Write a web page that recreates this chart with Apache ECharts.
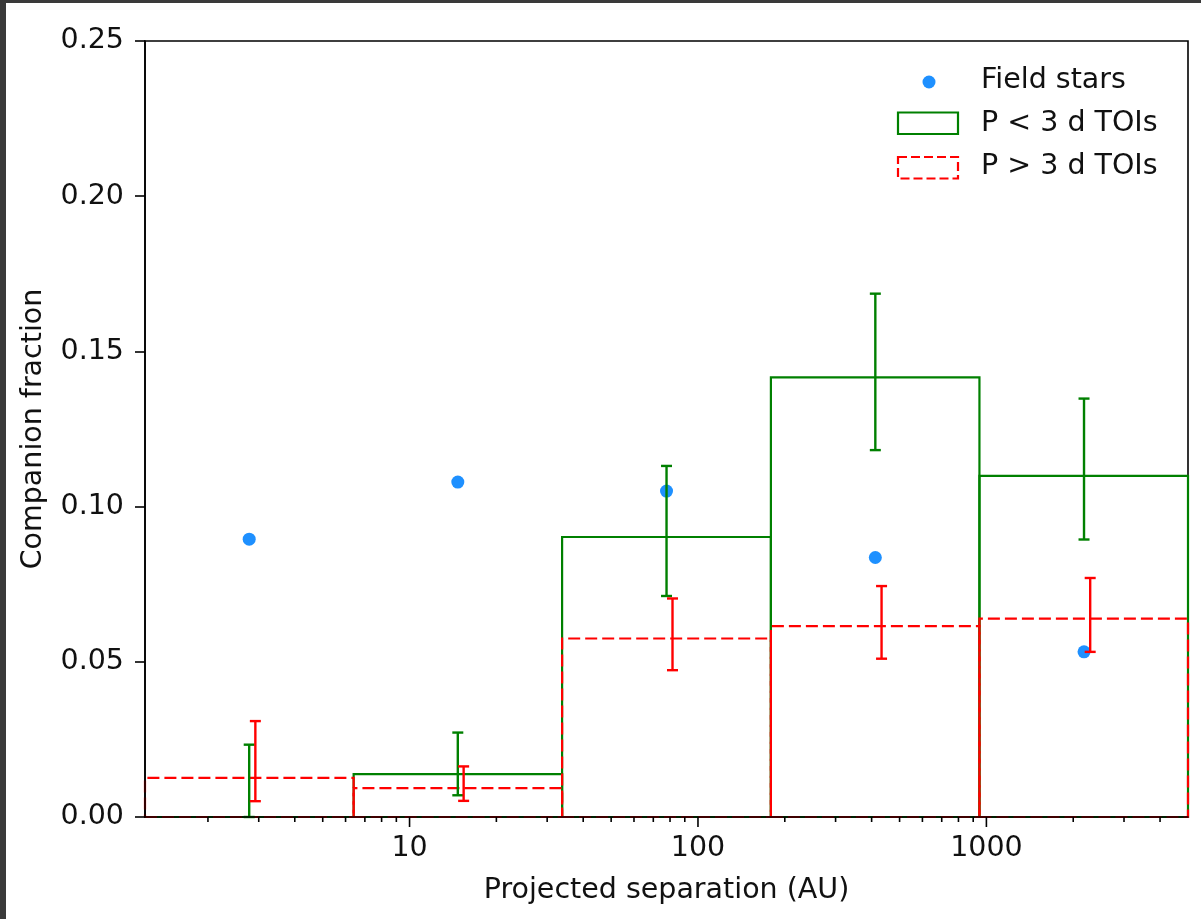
<!DOCTYPE html>
<html>
<head>
<meta charset="utf-8">
<script src="https://cdn.jsdelivr.net/npm/echarts@6/dist/echarts.min.js"></script>
<style>
html,body{margin:0;padding:0;background:#fff;}
#chart{width:1201px;height:919px;}
</style>
</head>
<body>
<div id="chart"></div>
<script>
// ---- data ----
const binEdges = [1.21, 6.4, 33.8, 179, 946, 5000];
const binCenters = [2.78, 14.7, 77.8, 412, 2180];
const fieldFrac = [0.0895, 0.1079, 0.1050, 0.0836, 0.0532];

const shortFrac = [0, 0.0138, 0.0902, 0.1416, 0.1099];
const shortLo   = [0, 0.0070, 0.0712, 0.1182, 0.0894];
const shortHi   = [0.0233, 0.0272, 0.1131, 0.1686, 0.1348];

const longErrX  = [2.92, 15.4, 81.6, 433, 2290];
const longFrac  = [0.0126, 0.0093, 0.0575, 0.0615, 0.0639];
const longLo    = [0.0051, 0.0052, 0.0473, 0.0510, 0.0532];
const longHi    = [0.0309, 0.0163, 0.0704, 0.0744, 0.0770];

const majorTicks = [10, 100, 1000];
const minorTicks = [2,3,4,5,6,7,8,9,20,30,40,50,60,70,80,90,200,300,400,500,600,700,800,900,2000,3000,4000];

const seriesNames = ['Field stars', 'P < 3 d TOIs', 'P > 3 d TOIs'];
const xLabel = 'Projected separation (AU)';
const yLabel = 'Companion fraction';

// ---- chart ----
const FONT = 'DejaVu Sans';
const FS = 28.5;
const GREEN = '#008000', RED = '#ff0000', BLUE = '#1e90ff';
const TXT = '#111';

function histData(h){ return h.map((v,i)=>[binEdges[i], binEdges[i+1], v]); }
function errData(xs, lo, hi){ return xs.map((x,i)=>[x, lo[i], hi[i]]); }

function histRender(color, dash){
  return function(params, api){
    const lo = api.value(0), hi = api.value(1), h = api.value(2);
    const a = api.coord([lo, 0]), b = api.coord([hi, h]);
    return {
      type: 'polygon',
      shape: { points: [[a[0],a[1]],[b[0],a[1]],[b[0],b[1]],[a[0],b[1]]] },
      style: { fill: null, stroke: color, lineWidth: 2.2, lineDash: dash }
    };
  };
}
function errRender(color){
  return function(params, api){
    const x = api.value(0);
    const t = api.coord([x, api.value(2)]), b = api.coord([x, api.value(1)]);
    const cw = 5.5;
    const st = { stroke: color, lineWidth: 2.4 };
    return { type: 'group', children: [
      { type:'line', shape:{x1:t[0], y1:t[1], x2:b[0], y2:b[1]}, style: st },
      { type:'line', shape:{x1:t[0]-cw, y1:t[1], x2:t[0]+cw, y2:t[1]}, style: st },
      { type:'line', shape:{x1:b[0]-cw, y1:b[1], x2:b[0]+cw, y2:b[1]}, style: st }
    ]};
  };
}
function tickRender(len){
  return function(params, api){
    const p = api.coord([api.value(0), 0]);
    return { type:'line', shape:{x1:p[0], y1:p[1], x2:p[0], y2:p[1]+len}, style:{stroke:'#000', lineWidth:1.6} };
  };
}

const chart = echarts.init(document.getElementById('chart'), null, {renderer:'canvas'});
const option = {
  animation: false,
  backgroundColor: '#fff',
  textStyle: { fontFamily: FONT },
  grid: { left: 145, right: 13, top: 41, bottom: 102, show: true, borderColor: '#000', borderWidth: 1.6, backgroundColor: 'transparent' },
  xAxis: {
    type: 'log', logBase: 10, min: binEdges[0], max: binEdges[binEdges.length-1],
    z: 10,
    axisLine: { show: true, lineStyle: { color: '#000', width: 1.6 } },
    axisTick: { show: false },
    splitLine: { show: false },
    axisLabel: {
      showMinLabel: false, showMaxLabel: false, margin: 17,
      color: TXT, fontSize: FS, fontFamily: FONT,
      formatter: v => (majorTicks.indexOf(Math.round(v)) >= 0 && Math.abs(v - Math.round(v)) < 1e-6) ? String(Math.round(v)) : ''
    },
    name: xLabel, nameLocation: 'middle', nameGap: 59,
    nameTextStyle: { color: TXT, fontSize: FS, fontFamily: FONT }
  },
  yAxis: {
    type: 'value', min: 0, max: 0.25, interval: 0.05,
    z: 10,
    axisLine: { show: true, lineStyle: { color: '#000', width: 1.6 } },
    axisTick: { show: true, length: 10, lineStyle: { color: '#000', width: 1.6 } },
    splitLine: { show: false },
    axisLabel: { margin: 21, color: TXT, fontSize: FS, fontFamily: FONT, formatter: v => v.toFixed(2) },
    name: yLabel, nameLocation: 'middle', nameGap: 97,
    nameTextStyle: { color: TXT, fontSize: FS, fontFamily: FONT }
  },
  series: [
    { name: seriesNames[0], type: 'scatter', z: 2, symbol: 'circle', symbolSize: 13,
      itemStyle: { color: BLUE, opacity: 1 }, data: binCenters.map((x,i)=>[x, fieldFrac[i]]) },
    { name: seriesNames[1], type: 'custom', z: 3, renderItem: histRender(GREEN, null), data: histData(shortFrac) },
    { name: seriesNames[2], type: 'custom', z: 4, renderItem: histRender(RED, [12, 5]), data: histData(longFrac) },
    { type: 'custom', z: 5, renderItem: errRender(GREEN), data: errData(binCenters, shortLo, shortHi) },
    { type: 'custom', z: 6, renderItem: errRender(RED), data: errData(longErrX, longLo, longHi) },
    { type: 'custom', z: 11, clip: false, renderItem: tickRender(10), data: majorTicks.map(v=>[v]) },
    { type: 'custom', z: 11, clip: false, renderItem: tickRender(5), data: minorTicks.map(v=>[v]) }
  ],
  graphic: [
    { type: 'rect', left: 0, top: 0, shape: { width: 6, height: 919 }, style: { fill: '#3a3a3a' }, z: 100 },
    { type: 'rect', left: 0, top: 0, shape: { width: 1201, height: 3 }, style: { fill: '#3a3a3a' }, z: 100 },
    { type: 'circle', shape: { cx: 929, cy: 82, r: 6.5 }, style: { fill: BLUE }, z: 50 },
    { type: 'rect', shape: { x: 898, y: 112.5, width: 60, height: 21.5 }, style: { fill: null, stroke: GREEN, lineWidth: 2.2 }, z: 50 },
    { type: 'rect', shape: { x: 898, y: 157, width: 60, height: 21.5 }, style: { fill: null, stroke: RED, lineWidth: 2.2, lineDash: [9, 4] }, z: 50 },
    { type: 'text', x: 981, y: 81, style: { text: seriesNames[0], fill: TXT, font: FS + 'px "' + FONT + '"', textVerticalAlign: 'middle', verticalAlign: 'middle' }, z: 50 },
    { type: 'text', x: 981, y: 124, style: { text: seriesNames[1], fill: TXT, font: FS + 'px "' + FONT + '"', textVerticalAlign: 'middle', verticalAlign: 'middle' }, z: 50 },
    { type: 'text', x: 981, y: 167, style: { text: seriesNames[2], fill: TXT, font: FS + 'px "' + FONT + '"', textVerticalAlign: 'middle', verticalAlign: 'middle' }, z: 50 }
  ]
};
chart.setOption(option);
</script>
</body>
</html>
